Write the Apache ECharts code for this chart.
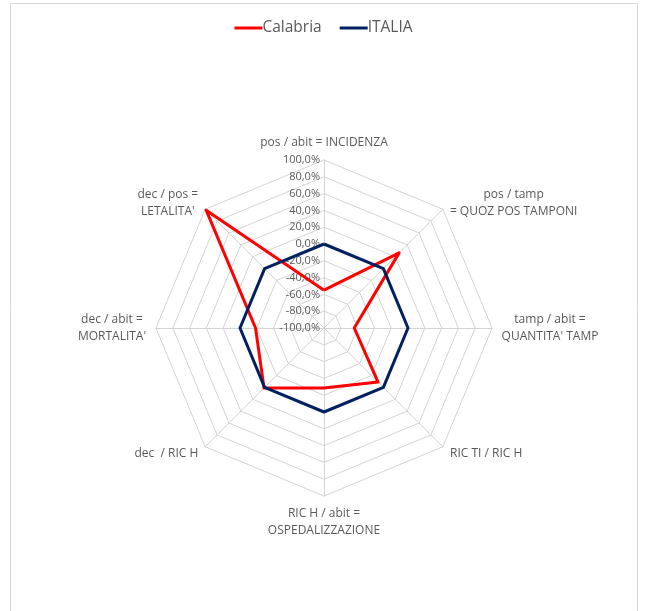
<!DOCTYPE html>
<html>
<head>
<meta charset="utf-8">
<style>
  html, body { margin: 0; padding: 0; background: #fff; }
  #chart { width: 647px; height: 611px; }
</style>
<script src="https://cdn.jsdelivr.net/npm/echarts@6/dist/echarts.min.js"></script>
</head>
<body>
<div id="chart"></div>
<script>
// Indicators (ratios), listed clockwise from the top;
// values as % difference vs. the national level
const indicatorNames = [
  "pos / abit = INCIDENZA",
  "pos / tamp\n= QUOZ POS TAMPONI",
  "tamp / abit =\nQUANTITA' TAMP",
  "RIC TI / RIC H",
  "RIC H / abit =\nOSPEDALIZZAZIONE",
  "dec  / RIC H",
  "dec / abit =\nMORTALITA'",
  "dec / pos =\nLETALITA'"
];
const seriesNames = ["Calabria", "ITALIA"];
const calabriaValues = [-55, 26.5, -64, -9, -28.5, 1, -18.5, 98.4];
const italiaValues = [0, 0, 0, 0, 0, 0, 0, 0];
const axisMin = -100;
const axisMax = 100;
const axisSteps = 10;

const textColor = "#595959";
const gridColor = "#d3d3d3";
const fontFamily = "'Open Sans', 'Liberation Sans', sans-serif";
const nameFontSize = 12;

// ECharts lays radar indicators out counter-clockwise; keep the first one
// at the top and reverse the rest so the chart reads clockwise.
const order = [0].concat(indicatorNames.map((_, i) => i).slice(1).reverse());
const reorder = arr => order.map(i => arr[i]);
const orderedNames = reorder(indicatorNames);

// Multi-line names: every line is centred inside a box as wide as the
// longest line, so the block still hangs off its anchor on the left/right.
const measureCtx = document.createElement("canvas").getContext("2d");
measureCtx.font = nameFontSize + "px " + fontFamily;
const nameRich = {};
orderedNames.forEach((name, i) => {
  const w = Math.max(...name.split("\n").map(s => measureCtx.measureText(s).width));
  nameRich["n" + i] = {
    width: Math.ceil(w) + 1,
    align: "center",
    color: textColor,
    fontSize: nameFontSize,
    lineHeight: 17,
    fontFamily: fontFamily
  };
});

const chart = echarts.init(document.getElementById("chart"));

const indicators = orderedNames.map((name, i) => ({
  name: name,
  min: axisMin,
  max: axisMax,
  axisLabel: { show: i === 0 }
}));

chart.setOption({
  animation: false,
  textStyle: { fontFamily: fontFamily },
  graphic: [{
    type: "rect",
    shape: { x: 10.5, y: 3.5, width: 627, height: 640 },
    style: { fill: "none", stroke: "#d9d9d9", lineWidth: 1 },
    silent: true,
    z: -10
  }],
  legend: {
    data: seriesNames,
    top: 15,
    left: "center",
    icon: "rect",
    itemWidth: 28,
    itemHeight: 3,
    itemGap: 18,
    textStyle: { color: textColor, fontSize: 15.5, fontFamily: fontFamily, padding: [0, 0, 0, -5] }
  },
  radar: {
    center: [324, 328],
    radius: 168,
    startAngle: 90,
    shape: "polygon",
    splitNumber: axisSteps,
    indicator: indicators,
    nameGap: 9,
    axisName: {
      color: textColor,
      fontSize: nameFontSize,
      lineHeight: 17,
      fontFamily: fontFamily,
      formatter: (name) => {
        const k = "n" + orderedNames.indexOf(name);
        return name.split("\n").map(s => "{" + k + "|" + s + "}").join("\n");
      },
      rich: nameRich
    },
    axisLine: { show: true, lineStyle: { color: gridColor, width: 1 } },
    splitLine: { show: true, lineStyle: { color: gridColor, width: 1 } },
    splitArea: { show: false },
    axisTick: { show: false },
    axisLabel: {
      show: false,
      color: textColor,
      fontSize: 11,
      margin: 4,
      fontFamily: fontFamily,
      formatter: v => v.toFixed(1).replace(".", ",") + "%"
    }
  },
  series: [{
    type: "radar",
    symbol: "none",
    data: [
      {
        name: seriesNames[0],
        value: reorder(calabriaValues),
        lineStyle: { color: "#ff0000", width: 3 },
        itemStyle: { color: "#ff0000" }
      },
      {
        name: seriesNames[1],
        value: reorder(italiaValues),
        lineStyle: { color: "#002060", width: 3 },
        itemStyle: { color: "#002060" }
      }
    ]
  }]
});
</script>
</body>
</html>
